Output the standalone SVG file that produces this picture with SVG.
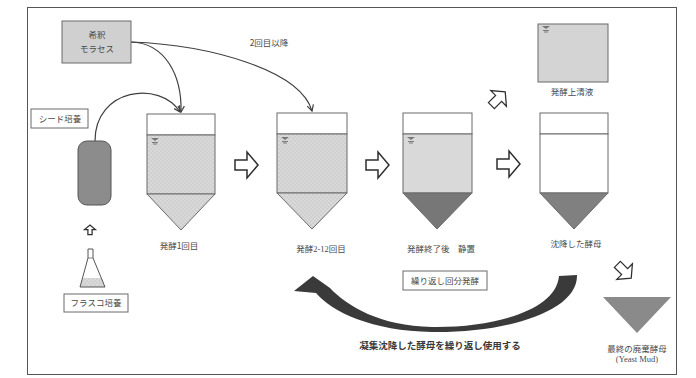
<svg xmlns="http://www.w3.org/2000/svg" xmlns:xlink="http://www.w3.org/1999/xlink" width="696" height="378" viewBox="0 0 696 378">
  <style>
    text { font-family: "Noto Sans CJK JP", "Liberation Serif", sans-serif; fill: #4a4a4a; font-size: 8.5px; text-anchor: middle; }
    .serif { font-family: "Liberation Serif", "Noto Sans CJK JP", serif; }
    .big { font-size: 9.5px; font-weight: bold; fill: #3a3a3a; }
    .box { fill: #ffffff; stroke: #6a6a6a; stroke-width: 1; }
    .tank { stroke: #6a6a6a; stroke-width: 1; }
    .link { fill: none; stroke: #3f3f3f; stroke-width: 1.2; }
    .hollow { fill: #ffffff; stroke: #2e2e2e; stroke-width: 1.5; stroke-linejoin: miter; }
    .mark { fill: none; stroke: #666; stroke-width: 0.8; }
  </style>
  <defs>
    <pattern id="dots" width="4" height="4" patternUnits="userSpaceOnUse">
      <rect width="4" height="4" fill="#d0d0d0"/>
      <circle cx="1" cy="1" r="0.8" fill="#e6e6e6"/>
      <circle cx="3" cy="3" r="0.8" fill="#e6e6e6"/>
    </pattern>
    <marker id="vhead" viewBox="0 0 8 8" refX="7" refY="4" markerWidth="8" markerHeight="8" markerUnits="userSpaceOnUse" orient="auto">
      <path d="M1,0.8 L7,4 L1,7.2" fill="none" stroke="#3f3f3f" stroke-width="1.2"/>
    </marker>
    <!-- hollow block arrow pointing right, centred on origin -->
    <path id="blk" d="M-11,-5 L1,-5 L1,-13 L12,0 L1,13 L1,5 L-11,5 Z"/>
    <!-- water level sign -->
    <g id="lvl">
      <path d="M0,0 h8 l-4,3 z" fill="#777"/>
      <path d="M1,4.5 h6 M2,6 h4" class="mark"/>
    </g>
  </defs>

  <rect width="696" height="378" fill="#ffffff"/>
  <rect x="27.5" y="7.5" width="649" height="367" fill="none" stroke="#555" stroke-width="1"/>

  <!-- connectors -->
  <g id="connectors">
    <path class="link" d="M131,42 C165,43 182,75 181,112" marker-end="url(#vhead)"/>
    <path class="link" d="M131,42 C210,45 300,70 312,111" marker-end="url(#vhead)"/>
    <path class="link" d="M95,141 C95,88 160,80 180,112" marker-end="url(#vhead)"/>
    <use xlink:href="#blk" class="hollow" transform="translate(246,165)"/>
    <use xlink:href="#blk" class="hollow" transform="translate(377,165)"/>
    <use xlink:href="#blk" class="hollow" transform="translate(508,164)"/>
    <use xlink:href="#blk" class="hollow" transform="translate(498,99) rotate(-45) scale(0.85)"/>
    <use xlink:href="#blk" class="hollow" transform="translate(624,271) rotate(45) scale(0.85)"/>
    <use xlink:href="#blk" class="hollow" transform="translate(90,230) rotate(-90) scale(0.42)" style="stroke-width:3"/>
    <!-- recycle arrow -->
    <path d="M577,275 C578,312 505,333 432,332 C372,331 332,312 316,293 L294,291 L313,276 L330,288 C347,306 380,326 432,327 C492,328 556,311 559,276 Z" fill="#3a3a3a"/>
    <text x="440" y="349" class="big">凝集沈降した酵母を繰り返し使用する</text>
    <text x="269" y="46">2回目以降</text>
  </g>

  <!-- diluted molasses -->
  <g id="molasses">
    <rect x="62" y="21" width="69" height="42" fill="#d0d0d0" stroke="#6a6a6a" stroke-width="1"/>
    <text x="97" y="38">希釈</text>
    <text x="97" y="52">モラセス</text>
  </g>

  <!-- seed culture -->
  <g id="seed">
    <rect x="31" y="109" width="57" height="19" class="box"/>
    <text x="60" y="122">シード培養</text>
    <rect x="78" y="141" width="33" height="64" rx="9" fill="#8c8c8c" stroke="#555" stroke-width="1"/>
  </g>

  <!-- flask culture -->
  <g id="flask">
    <path d="M82.5,278 L101.3,278 L105,287 L80,287 Z" fill="url(#dots)"/>
    <path d="M88,249 h5 v9 L105,287 H80 L88,258 Z" fill="none" stroke="#555" stroke-width="1"/>
    <path d="M88,258 h5" class="mark"/>
    <rect x="64" y="294" width="64" height="18" class="box"/>
    <text x="96" y="306">フラスコ培養</text>
  </g>

  <!-- fermentation 1 -->
  <g id="tank1">
    <rect x="147" y="114" width="68" height="21" fill="#fff" class="tank"/>
    <rect x="147" y="135" width="68" height="59" fill="url(#dots)" class="tank"/>
    <path d="M147,194 H215 L181,230 Z" fill="url(#dots)" class="tank"/>
    <use xlink:href="#lvl" x="151" y="138"/>
    <text x="179" y="249">発酵1回目</text>
  </g>

  <!-- fermentation 2-12 -->
  <g id="tank2">
    <rect x="277" y="113" width="70" height="21" fill="#fff" class="tank"/>
    <rect x="277" y="134" width="70" height="59" fill="url(#dots)" class="tank"/>
    <path d="M277,193 H347 L312,229 Z" fill="url(#dots)" class="tank"/>
    <use xlink:href="#lvl" x="281" y="137"/>
    <text x="321" y="252"><tspan>発酵</tspan><tspan class="serif">2-12</tspan><tspan>回目</tspan></text>
  </g>

  <!-- settling -->
  <g id="tank3">
    <rect x="403" y="113" width="69" height="21" fill="#fff" class="tank"/>
    <rect x="403" y="134" width="69" height="59" fill="#d9d9d9" class="tank"/>
    <path d="M403,193 H472 L437,229 Z" fill="#777" class="tank"/>
    <use xlink:href="#lvl" x="407" y="137"/>
    <text x="441" y="252">発酵終了後　静置</text>
    <rect x="403" y="271" width="84" height="19" class="box"/>
    <text x="445" y="284">繰り返し回分発酵</text>
  </g>

  <!-- settled yeast -->
  <g id="tank4">
    <rect x="540" y="113" width="68" height="21" fill="#fff" class="tank"/>
    <rect x="540" y="134" width="68" height="59" fill="#fff" class="tank"/>
    <path d="M540,193 H608 L574,229 Z" fill="#808080" class="tank"/>
    <text x="576" y="247">沈降した酵母</text>
  </g>

  <!-- supernatant -->
  <g id="supernatant">
    <rect x="538" y="24" width="70" height="58" fill="#d4d4d4" stroke="#6a6a6a" stroke-width="1"/>
    <use xlink:href="#lvl" x="542" y="26"/>
    <text x="572" y="95">発酵上清液</text>
  </g>

  <!-- yeast mud -->
  <g id="mud">
    <path d="M603,297 H671 L637,333 Z" fill="#8a8a8a"/>
    <text x="637" y="352">最終の廃棄酵母</text>
    <text x="637" y="362" class="serif">(Yeast Mud)</text>
  </g>
</svg>
